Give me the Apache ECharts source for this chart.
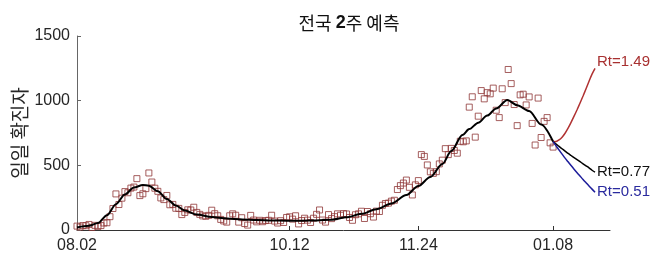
<!DOCTYPE html>
<html>
<head>
<meta charset="utf-8">
<script src="https://cdn.jsdelivr.net/npm/echarts@6/dist/echarts.min.js"></script>
<style>
html,body{margin:0;padding:0;background:#fff;}
#chart{width:658px;height:262px;}
</style>
</head>
<body>
<div id="chart"></div>
<script>
// Tick positions (days since 08.02) and labels
const tickDays = [0, 71, 114, 159];
const tickLabels = ['08.02', '10.12', '11.24', '01.08'];
const yTicks = [0, 500, 1000, 1500];

// Daily confirmed cases, one per day starting 08.02 (index = day)
const cases = [30,23,34,33,43,20,36,28,34,54,56,103,166,279,197,246,297,288,324,332,
  397,266,280,320,441,371,323,299,248,235,267,195,198,168,167,119,136,156,155,176,
  136,121,109,106,113,153,126,110,82,70,61,110,125,114,61,95,50,38,113,77,
  63,75,64,73,75,114,69,54,72,58,97,102,84,110,47,73,91,76,58,91,
  121,155,77,61,119,88,103,125,114,127,124,97,75,118,125,145,89,143,126,100,
  146,143,191,205,208,223,230,313,343,363,386,330,271,349,382,583,569,503,450,438,
  451,511,540,629,583,631,615,594,686,682,689,950,1030,718,880,1078,1014,1062,1053,1097,
  926,869,1092,985,1241,1132,970,807,1045,1050,967,1029,824,657,1020,715,840,869,674,641];

// Model fit (black curve)
const fitDays = [0,4,7,10,13,16,19,22,24,27,30,33,36,40,45,50,55,60,65,70,75,80,85,90,95,100,105,110,114,118,122,125,128.7,131,134,137,140,143.7,147,151,155,159];
const fitVals = [20,32,55,115,200,275,328,348,343,300,240,190,150,120,100,88,82,77,74,72,72,74,80,98,125,160,205,270,340,410,510,610,735,780,830,885,940,1005,965,920,815,683];

// 2-week projections
const projDays = [159,160,161,162,163,164,165,166,167,168,169,170,171,172,173];
const projHigh = [683,684,697,718,748,787,832,880,930,982,1036,1092,1150,1205,1250]; // Rt=1.49
const projMid  = [683,665,646,628,610,592,576,560,544,528,512,496,480,462,448];       // Rt=0.77
const projLow  = [683,650,618,587,556,527,498,470,443,417,391,366,341,316,292];        // Rt=0.51

const zip = (a, b) => a.map((d, i) => [d, b[i]]);
const font = "'Liberation Sans', Arial, sans-serif";
const kfont = "'Noto Sans CJK KR', 'Liberation Sans', sans-serif";

const chart = echarts.init(document.getElementById('chart'), null, {renderer: 'canvas'});
chart.setOption({
  animation: false,
  backgroundColor: '#ffffff',
  title: {
    text: '{k|전국 }{b|2}{k|주 예측}',
    left: 344, top: 9, textAlign: 'center',
    textStyle: {
      fontWeight: 'normal',
      rich: {
        k: {fontFamily: kfont, fontSize: 18, fontWeight: 'normal', color: '#111'},
        b: {fontFamily: font, fontSize: 18, fontWeight: 'bold', color: '#111'}
      }
    }
  },
  grid: {left: 77, right: 48, top: 36, bottom: 32, containLabel: false, outerBoundsMode: 'none'},
  xAxis: {
    type: 'value', min: 0, max: 178,
    axisLine: {show: true, lineStyle: {color: '#333', width: 1}},
    axisTick: {show: true, inside: true, length: 4, customValues: tickDays, lineStyle: {color: '#333'}},
    axisLabel: {
      customValues: tickDays, margin: 8, fontFamily: font, fontSize: 16, color: '#262626',
      formatter: v => tickLabels[tickDays.indexOf(v)]
    },
    splitLine: {show: false}
  },
  yAxis: {
    type: 'value', min: 0, max: 1500, interval: 500,
    name: '일일 확진자', nameLocation: 'middle', nameRotate: 90, nameGap: 48, nameMoveOverlap: false,
    nameTextStyle: {fontFamily: kfont, fontSize: 19, color: '#262626'},
    axisLine: {show: true, lineStyle: {color: '#666', width: 1}},
    axisTick: {show: true, inside: true, length: 4, lineStyle: {color: '#666'}},
    axisLabel: {margin: 7, fontFamily: font, fontSize: 16, color: '#262626',
      formatter: v => yTicks.includes(v) ? String(v) : ''},
    splitLine: {show: false}
  },
  series: [
    {
      type: 'scatter', data: cases.map((v, i) => [i, v]),
      symbol: 'rect', symbolSize: 6,
      itemStyle: {color: 'rgba(255,255,255,0)', borderColor: '#8e3636', borderWidth: 1},
      z: 2
    },
    {
      type: 'line', data: zip(fitDays, fitVals), smooth: 0.3, smoothMonotone: 'x',
      showSymbol: false, lineStyle: {color: '#000', width: 2}, z: 3
    },
    {
      type: 'line', data: zip(projDays, projHigh), smooth: 0.3, showSymbol: false,
      lineStyle: {color: '#b03232', width: 1.5}, z: 4,
      endLabel: {show: true, formatter: 'Rt=1.49', color: '#a83030', fontFamily: font, fontSize: 15, distance: 2, offset: [0, -6]}
    },
    {
      type: 'line', data: zip(projDays, projMid), smooth: 0.3, showSymbol: false,
      lineStyle: {color: '#000', width: 1.5}, z: 4,
      endLabel: {show: true, formatter: 'Rt=0.77', color: '#111', fontFamily: font, fontSize: 15, distance: 2}
    },
    {
      type: 'line', data: zip(projDays, projLow), smooth: 0.3, showSymbol: false,
      lineStyle: {color: '#1c1c9a', width: 1.5}, z: 4,
      endLabel: {show: true, formatter: 'Rt=0.51', color: '#2a2a9e', fontFamily: font, fontSize: 15, distance: 2}
    }
  ]
});
</script>
</body>
</html>
